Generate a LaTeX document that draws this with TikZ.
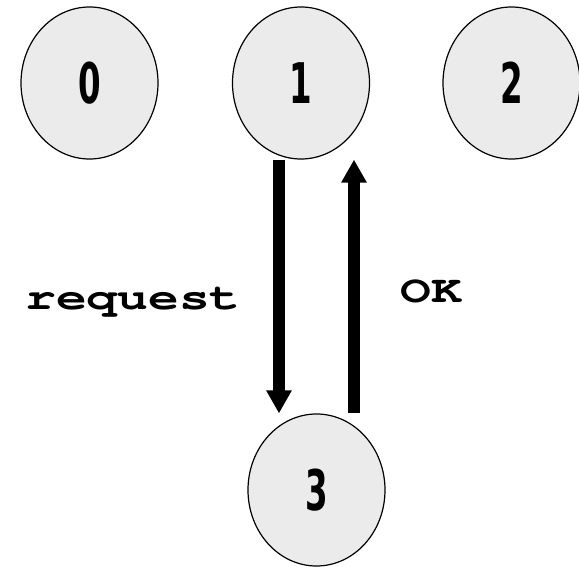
\documentclass[tikz,border=0pt]{standalone}
\usepackage{fontspec}
\usepackage{graphicx}
\definecolor{procgray}{HTML}{EBEBEB}
\newfontfamily\digitfont{DejaVu Sans}
\newfontfamily\msgfont{TeX Gyre Cursor}
\usepackage{tikz}
\usetikzlibrary{arrows.meta, positioning, shapes.geometric}

\begin{document}
\begin{tikzpicture}[x=1pt, y=1pt,
    proc/.style={ellipse, draw=black, line width=1.2pt, fill=procgray,
      minimum width=137pt, minimum height=152pt, inner sep=0pt},
    msg/.style={inner sep=0pt},
    flow/.style={line width=12pt, -{Triangle[width=24pt, length=23pt]}}]
    % Frame
    \useasboundingbox (0,0) rectangle (579,566);
    % Processes
    \node[proc] (n0) at (89.5,483) {\scalebox{0.58}[1]{\fontsize{56}{56}\digitfont\bfseries 0}};
    \node[proc] (n1) at (301,483) {\scalebox{0.58}[1]{\fontsize{56}{56}\digitfont\bfseries 1}};
    \node[proc] (n2) at (511.5,483) {\scalebox{0.58}[1]{\fontsize{56}{56}\digitfont\bfseries 2}};
    \node[proc] (n3) at (316.5,76) {\scalebox{0.58}[1]{\fontsize{56}{56}\digitfont\bfseries 3}};
    % Messages
    \draw[flow] (n1.south -| 279,0) -- (n3.north -| 279,0);
    \draw[flow] (n3.north -| 354,0) -- (n1.south -| 354,0);
    \node[msg] (req) at (133,264) {\scalebox{1.35}[1]{\fontsize{38}{38}\msgfont\bfseries request}};
    \node[msg] (ok) at (431,275) {\scalebox{1.35}[1]{\fontsize{38}{38}\msgfont\bfseries OK}};
\end{tikzpicture}
\end{document}
